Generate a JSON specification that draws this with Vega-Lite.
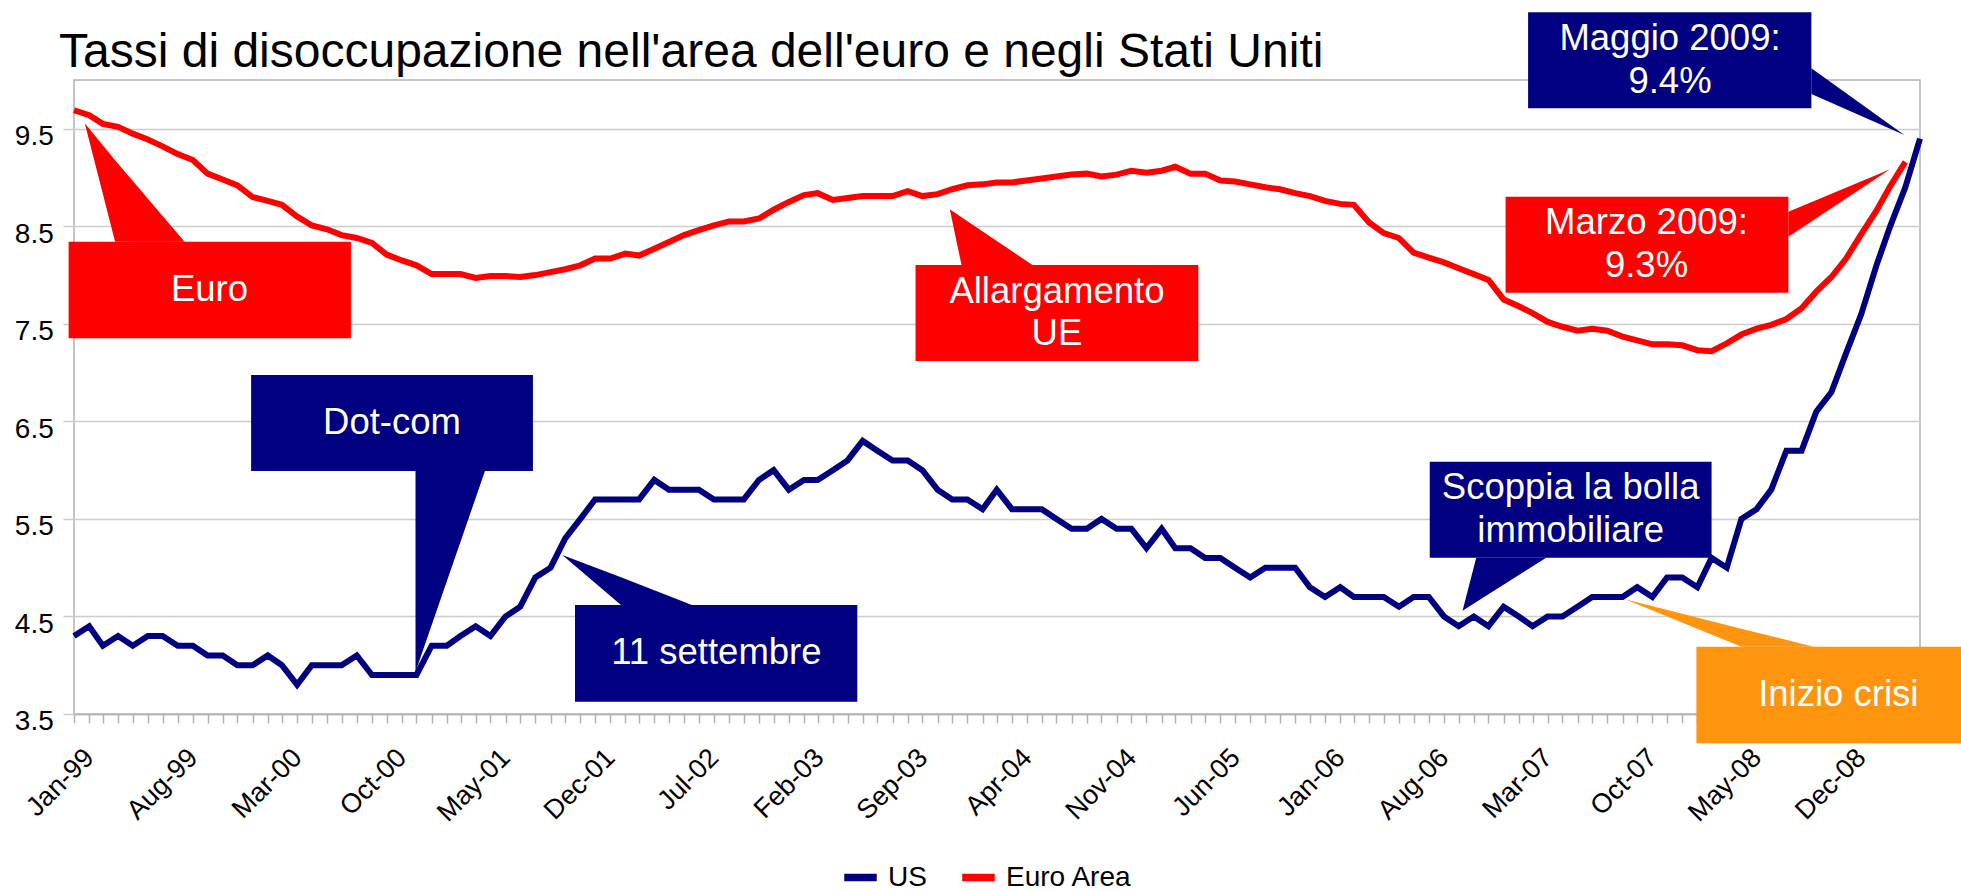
{
  "$schema": "https://vega.github.io/schema/vega-lite/v6.json",
  "width": 1846,
  "height": 634,
  "autosize": {"type": "none"},
  "padding": {"left": 74, "top": 80, "right": 41, "bottom": 176},
  "background": "#ffffff",
  "title": {
    "text": "Tassi di disoccupazione nell'area dell'euro e negli Stati Uniti",
    "anchor": "start", "frame": "group", "fontSize": 48, "font": "Liberation Sans",
    "fontWeight": "normal", "color": "#000000", "offset": -50, "baseline": "alphabetic",
    "dx": -15, "dy": 52.7
  },
  "config": {
    "font": "Liberation Sans",
    "view": {"stroke": "#b3b3b3", "strokeWidth": 1.5}
  },
  "datasets": {
    "rates": [
      {"date": "1999-01-01", "US": 4.3, "Euro Area": 9.69},
      {"date": "1999-02-01", "US": 4.4, "Euro Area": 9.64},
      {"date": "1999-03-01", "US": 4.2, "Euro Area": 9.55},
      {"date": "1999-04-01", "US": 4.3, "Euro Area": 9.52},
      {"date": "1999-05-01", "US": 4.2, "Euro Area": 9.45},
      {"date": "1999-06-01", "US": 4.3, "Euro Area": 9.39},
      {"date": "1999-07-01", "US": 4.3, "Euro Area": 9.32},
      {"date": "1999-08-01", "US": 4.2, "Euro Area": 9.24},
      {"date": "1999-09-01", "US": 4.2, "Euro Area": 9.18},
      {"date": "1999-10-01", "US": 4.1, "Euro Area": 9.04},
      {"date": "1999-11-01", "US": 4.1, "Euro Area": 8.98},
      {"date": "1999-12-01", "US": 4.0, "Euro Area": 8.92},
      {"date": "2000-01-01", "US": 4.0, "Euro Area": 8.80},
      {"date": "2000-02-01", "US": 4.1, "Euro Area": 8.76},
      {"date": "2000-03-01", "US": 4.0, "Euro Area": 8.72},
      {"date": "2000-04-01", "US": 3.8, "Euro Area": 8.60},
      {"date": "2000-05-01", "US": 4.0, "Euro Area": 8.51},
      {"date": "2000-06-01", "US": 4.0, "Euro Area": 8.47},
      {"date": "2000-07-01", "US": 4.0, "Euro Area": 8.41},
      {"date": "2000-08-01", "US": 4.1, "Euro Area": 8.38},
      {"date": "2000-09-01", "US": 3.9, "Euro Area": 8.33},
      {"date": "2000-10-01", "US": 3.9, "Euro Area": 8.21},
      {"date": "2000-11-01", "US": 3.9, "Euro Area": 8.15},
      {"date": "2000-12-01", "US": 3.9, "Euro Area": 8.10},
      {"date": "2001-01-01", "US": 4.2, "Euro Area": 8.01},
      {"date": "2001-02-01", "US": 4.2, "Euro Area": 8.01},
      {"date": "2001-03-01", "US": 4.3, "Euro Area": 8.01},
      {"date": "2001-04-01", "US": 4.4, "Euro Area": 7.97},
      {"date": "2001-05-01", "US": 4.3, "Euro Area": 7.99},
      {"date": "2001-06-01", "US": 4.5, "Euro Area": 7.99},
      {"date": "2001-07-01", "US": 4.6, "Euro Area": 7.98},
      {"date": "2001-08-01", "US": 4.9, "Euro Area": 8.00},
      {"date": "2001-09-01", "US": 5.0, "Euro Area": 8.03},
      {"date": "2001-10-01", "US": 5.3, "Euro Area": 8.06},
      {"date": "2001-11-01", "US": 5.5, "Euro Area": 8.10},
      {"date": "2001-12-01", "US": 5.7, "Euro Area": 8.17},
      {"date": "2002-01-01", "US": 5.7, "Euro Area": 8.17},
      {"date": "2002-02-01", "US": 5.7, "Euro Area": 8.22},
      {"date": "2002-03-01", "US": 5.7, "Euro Area": 8.20},
      {"date": "2002-04-01", "US": 5.9, "Euro Area": 8.27},
      {"date": "2002-05-01", "US": 5.8, "Euro Area": 8.34},
      {"date": "2002-06-01", "US": 5.8, "Euro Area": 8.41},
      {"date": "2002-07-01", "US": 5.8, "Euro Area": 8.46},
      {"date": "2002-08-01", "US": 5.7, "Euro Area": 8.51},
      {"date": "2002-09-01", "US": 5.7, "Euro Area": 8.55},
      {"date": "2002-10-01", "US": 5.7, "Euro Area": 8.55},
      {"date": "2002-11-01", "US": 5.9, "Euro Area": 8.58},
      {"date": "2002-12-01", "US": 6.0, "Euro Area": 8.67},
      {"date": "2003-01-01", "US": 5.8, "Euro Area": 8.75},
      {"date": "2003-02-01", "US": 5.9, "Euro Area": 8.82},
      {"date": "2003-03-01", "US": 5.9, "Euro Area": 8.84},
      {"date": "2003-04-01", "US": 6.0, "Euro Area": 8.77},
      {"date": "2003-05-01", "US": 6.1, "Euro Area": 8.79},
      {"date": "2003-06-01", "US": 6.3, "Euro Area": 8.81},
      {"date": "2003-07-01", "US": 6.2, "Euro Area": 8.81},
      {"date": "2003-08-01", "US": 6.1, "Euro Area": 8.81},
      {"date": "2003-09-01", "US": 6.1, "Euro Area": 8.86},
      {"date": "2003-10-01", "US": 6.0, "Euro Area": 8.81},
      {"date": "2003-11-01", "US": 5.8, "Euro Area": 8.83},
      {"date": "2003-12-01", "US": 5.7, "Euro Area": 8.88},
      {"date": "2004-01-01", "US": 5.7, "Euro Area": 8.92},
      {"date": "2004-02-01", "US": 5.6, "Euro Area": 8.93},
      {"date": "2004-03-01", "US": 5.8, "Euro Area": 8.95},
      {"date": "2004-04-01", "US": 5.6, "Euro Area": 8.95},
      {"date": "2004-05-01", "US": 5.6, "Euro Area": 8.97},
      {"date": "2004-06-01", "US": 5.6, "Euro Area": 8.99},
      {"date": "2004-07-01", "US": 5.5, "Euro Area": 9.01},
      {"date": "2004-08-01", "US": 5.4, "Euro Area": 9.03},
      {"date": "2004-09-01", "US": 5.4, "Euro Area": 9.04},
      {"date": "2004-10-01", "US": 5.5, "Euro Area": 9.01},
      {"date": "2004-11-01", "US": 5.4, "Euro Area": 9.03},
      {"date": "2004-12-01", "US": 5.4, "Euro Area": 9.07},
      {"date": "2005-01-01", "US": 5.2, "Euro Area": 9.05},
      {"date": "2005-02-01", "US": 5.4, "Euro Area": 9.07},
      {"date": "2005-03-01", "US": 5.2, "Euro Area": 9.11},
      {"date": "2005-04-01", "US": 5.2, "Euro Area": 9.04},
      {"date": "2005-05-01", "US": 5.1, "Euro Area": 9.04},
      {"date": "2005-06-01", "US": 5.1, "Euro Area": 8.97},
      {"date": "2005-07-01", "US": 5.0, "Euro Area": 8.96},
      {"date": "2005-08-01", "US": 4.9, "Euro Area": 8.93},
      {"date": "2005-09-01", "US": 5.0, "Euro Area": 8.90},
      {"date": "2005-10-01", "US": 5.0, "Euro Area": 8.88},
      {"date": "2005-11-01", "US": 5.0, "Euro Area": 8.84},
      {"date": "2005-12-01", "US": 4.8, "Euro Area": 8.81},
      {"date": "2006-01-01", "US": 4.7, "Euro Area": 8.76},
      {"date": "2006-02-01", "US": 4.8, "Euro Area": 8.73},
      {"date": "2006-03-01", "US": 4.7, "Euro Area": 8.72},
      {"date": "2006-04-01", "US": 4.7, "Euro Area": 8.54},
      {"date": "2006-05-01", "US": 4.7, "Euro Area": 8.43},
      {"date": "2006-06-01", "US": 4.6, "Euro Area": 8.38},
      {"date": "2006-07-01", "US": 4.7, "Euro Area": 8.23},
      {"date": "2006-08-01", "US": 4.7, "Euro Area": 8.18},
      {"date": "2006-09-01", "US": 4.5, "Euro Area": 8.13},
      {"date": "2006-10-01", "US": 4.4, "Euro Area": 8.07},
      {"date": "2006-11-01", "US": 4.5, "Euro Area": 8.01},
      {"date": "2006-12-01", "US": 4.4, "Euro Area": 7.95},
      {"date": "2007-01-01", "US": 4.6, "Euro Area": 7.75},
      {"date": "2007-02-01", "US": 4.5, "Euro Area": 7.68},
      {"date": "2007-03-01", "US": 4.4, "Euro Area": 7.61},
      {"date": "2007-04-01", "US": 4.5, "Euro Area": 7.52},
      {"date": "2007-05-01", "US": 4.5, "Euro Area": 7.47},
      {"date": "2007-06-01", "US": 4.6, "Euro Area": 7.43},
      {"date": "2007-07-01", "US": 4.7, "Euro Area": 7.45},
      {"date": "2007-08-01", "US": 4.7, "Euro Area": 7.43},
      {"date": "2007-09-01", "US": 4.7, "Euro Area": 7.37},
      {"date": "2007-10-01", "US": 4.8, "Euro Area": 7.33},
      {"date": "2007-11-01", "US": 4.7, "Euro Area": 7.29},
      {"date": "2007-12-01", "US": 4.9, "Euro Area": 7.29},
      {"date": "2008-01-01", "US": 4.9, "Euro Area": 7.28},
      {"date": "2008-02-01", "US": 4.8, "Euro Area": 7.23},
      {"date": "2008-03-01", "US": 5.1, "Euro Area": 7.22},
      {"date": "2008-04-01", "US": 5.0, "Euro Area": 7.30},
      {"date": "2008-05-01", "US": 5.5, "Euro Area": 7.39},
      {"date": "2008-06-01", "US": 5.6, "Euro Area": 7.45},
      {"date": "2008-07-01", "US": 5.8, "Euro Area": 7.49},
      {"date": "2008-08-01", "US": 6.2, "Euro Area": 7.55},
      {"date": "2008-09-01", "US": 6.2, "Euro Area": 7.66},
      {"date": "2008-10-01", "US": 6.6, "Euro Area": 7.83},
      {"date": "2008-11-01", "US": 6.8, "Euro Area": 7.98},
      {"date": "2008-12-01", "US": 7.2, "Euro Area": 8.17},
      {"date": "2009-01-01", "US": 7.6, "Euro Area": 8.42},
      {"date": "2009-02-01", "US": 8.1, "Euro Area": 8.66},
      {"date": "2009-03-01", "US": 8.5, "Euro Area": 8.91},
      {"date": "2009-04-01", "US": 8.9, "Euro Area": 9.16},
      {"date": "2009-05-01", "US": 9.4, "Euro Area": null}
    ],
    "boxes": [
      {"label": "Euro", "series": "Euro Area", "date": "1998-12-21", "date2": "2000-07-20", "v": 8.342, "v2": 7.352},
      {"label": "Dot-com", "series": "US", "date": "1999-12-29", "date2": "2001-07-27", "v": 6.976, "v2": 5.991},
      {"label": "11 settembre", "series": "US", "date": "2001-10-21", "date2": "2003-05-21", "v": 4.618, "v2": 3.626},
      {"label": "Allargamento UE", "series": "Euro Area", "date": "2003-09-17", "date2": "2005-04-17", "v": 8.103, "v2": 7.119},
      {"label": "Maggio 2009", "series": "US", "date": "2007-02-20", "date2": "2008-09-21", "v": 10.694, "v2": 9.710},
      {"label": "Marzo 2009", "series": "Euro Area", "date": "2007-01-05", "date2": "2008-08-05", "v": 8.804, "v2": 7.819},
      {"label": "Scoppia la bolla", "series": "US", "date": "2006-08-03", "date2": "2008-03-01", "v": 6.087, "v2": 5.102},
      {"label": "Inizio crisi", "series": "Crisi", "date": "2008-01-30", "date2": "2009-09-01", "v": 4.190, "v2": 3.200}
    ],
    "pointers": [
      {"label": "Euro", "series": "Euro Area", "date": "1999-01-23", "v": 9.556, "v2": 9.556},
      {"label": "Euro", "series": "Euro Area", "date": "1999-03-26", "v": 9.178, "v2": 8.342},
      {"label": "Euro", "series": "Euro Area", "date": "1999-08-15", "v": 8.342, "v2": 8.342},
      {"label": "Dot-com", "series": "US", "date": "2000-11-29", "v": 5.991, "v2": 3.934},
      {"label": "Dot-com", "series": "US", "date": "2001-04-20", "v": 5.991, "v2": 5.991},
      {"label": "11 settembre", "series": "US", "date": "2001-09-25", "v": 5.130, "v2": 5.130},
      {"label": "11 settembre", "series": "US", "date": "2002-01-23", "v": 4.902, "v2": 4.618},
      {"label": "11 settembre", "series": "US", "date": "2002-06-17", "v": 4.618, "v2": 4.618},
      {"label": "Allargamento UE", "series": "Euro Area", "date": "2003-11-26", "v": 8.674, "v2": 8.674},
      {"label": "Allargamento UE", "series": "Euro Area", "date": "2003-12-20", "v": 8.594, "v2": 8.103},
      {"label": "Allargamento UE", "series": "Euro Area", "date": "2004-05-13", "v": 8.103, "v2": 8.103},
      {"label": "Maggio 2009", "series": "US", "date": "2008-09-21", "v": 10.120, "v2": 9.856},
      {"label": "Maggio 2009", "series": "US", "date": "2009-03-30", "v": 9.436, "v2": 9.436},
      {"label": "Marzo 2009", "series": "Euro Area", "date": "2008-08-05", "v": 8.650, "v2": 8.393},
      {"label": "Marzo 2009", "series": "Euro Area", "date": "2009-03-01", "v": 9.084, "v2": 9.084},
      {"label": "Scoppia la bolla", "series": "US", "date": "2006-10-09", "v": 4.559, "v2": 4.559},
      {"label": "Scoppia la bolla", "series": "US", "date": "2006-11-06", "v": 5.102, "v2": 4.649},
      {"label": "Scoppia la bolla", "series": "US", "date": "2007-03-29", "v": 5.102, "v2": 5.102},
      {"label": "Inizio crisi", "series": "Crisi", "date": "2007-09-06", "v": 4.676, "v2": 4.676},
      {"label": "Inizio crisi", "series": "Crisi", "date": "2008-05-01", "v": 4.375, "v2": 4.190},
      {"label": "Inizio crisi", "series": "Crisi", "date": "2008-09-26", "v": 4.190, "v2": 4.190}
    ],
    "labels": [
      {"text": "Euro", "date": "1999-10-05", "v": 7.847},
      {"text": "Dot-com", "date": "2000-10-12", "v": 6.483},
      {"text": "11 settembre", "date": "2002-08-06", "v": 4.122},
      {"text": "Allargamento\nUE", "date": "2004-07-02", "v": 7.829},
      {"text": "Maggio 2009:\n9.4%", "date": "2007-12-07", "v": 10.420},
      {"text": "Marzo 2009:\n9.3%", "date": "2007-10-20", "v": 8.529},
      {"text": "Scoppia la bolla\nimmobiliare", "date": "2007-05-18", "v": 5.813},
      {"text": "Inizio crisi", "date": "2008-11-15", "v": 3.695}
    ]
  },
  "encoding": {
    "x": {
      "field": "date", "type": "temporal", "title": null,
      "scale": {"type": "utc", "nice": false, "domain": [
        {"year": 1999, "month": 1, "date": 1, "utc": true},
        {"year": 2009, "month": 5, "date": 1, "utc": true}
      ]},
      "axis": {
        "tickCount": {"interval": "month", "step": 1},
        "labelExpr": "(utcyear(datum.value) * 12 + utcmonth(datum.value) - 23988) % 7 == 0 ? utcFormat(datum.value, '%b-%y') : ''",
        "labelOverlap": false, "labelBound": false, "labelFlush": false,
        "labelAngle": -45, "labelAlign": "right", "labelBaseline": "top",
        "labelFontSize": 27, "labelColor": "#000000", "labelPadding": 21, "labelOffset": 6,
        "grid": false, "domain": true, "domainColor": "#b3b3b3", "domainWidth": 1.5,
        "ticks": true, "tickColor": "#b3b3b3", "tickSize": 9, "tickWidth": 1.5
      }
    },
    "y": {
      "field": "v", "type": "quantitative", "title": null,
      "scale": {"domain": [3.5, 10], "nice": false, "zero": false},
      "axis": {
        "values": [3.5, 4.5, 5.5, 6.5, 7.5, 8.5, 9.5],
        "format": ".1f",
        "grid": true, "gridColor": "#cccccc", "gridWidth": 1.5,
        "domain": false,
        "ticks": true, "tickColor": "#cccccc", "tickSize": 11, "tickWidth": 1.5,
        "labelFontSize": 28, "labelColor": "#000000", "labelPadding": 9.7,
        "labelBaseline": "middle", "labelOffset": 7.7
      }
    }
  },
  "layer": [
    {
      "data": {"name": "rates"},
      "transform": [{"fold": ["US", "Euro Area"], "as": ["series", "v"]}],
      "mark": {"type": "line", "strokeWidth": 6},
      "encoding": {
        "color": {
          "field": "series", "type": "nominal",
          "scale": {"domain": ["US", "Euro Area"], "range": ["#000080", "#ff0000"]},
          "legend": {
            "title": null, "orient": "none", "direction": "horizontal",
            "legendX": 766, "legendY": 777, "padding": 0, "gridAlign": "none",
            "symbolType": "stroke", "symbolSize": 1056, "symbolStrokeWidth": 7.7,
            "labelFontSize": 28, "labelColor": "#000000", "labelOffset": 7,
            "columnPadding": 19
          }
        }
      }
    },
    {
      "data": {"name": "boxes"},
      "mark": {"type": "rect", "opacity": 1},
      "encoding": {
        "x2": {"field": "date2"},
        "y2": {"field": "v2"},
        "fill": {
          "field": "series", "type": "nominal",
          "scale": {"domain": ["US", "Euro Area", "Crisi"], "range": ["#000080", "#ff0000", "#ff950e"]},
          "legend": null
        }
      }
    },
    {
      "data": {"name": "pointers"},
      "mark": {"type": "area", "opacity": 1},
      "encoding": {
        "y2": {"field": "v2"},
        "detail": {"field": "label"},
        "fill": {
          "field": "series", "type": "nominal",
          "scale": {"domain": ["US", "Euro Area", "Crisi"], "range": ["#000080", "#ff0000", "#ff950e"]},
          "legend": null
        }
      }
    },
    {
      "data": {"name": "labels"},
      "mark": {"type": "text", "color": "#ffffff", "fontSize": 36.5, "align": "center", "baseline": "middle", "lineBreak": "\n", "lineHeight": 42.5},
      "encoding": {
        "text": {"field": "text"}
      }
    }
  ]
}
